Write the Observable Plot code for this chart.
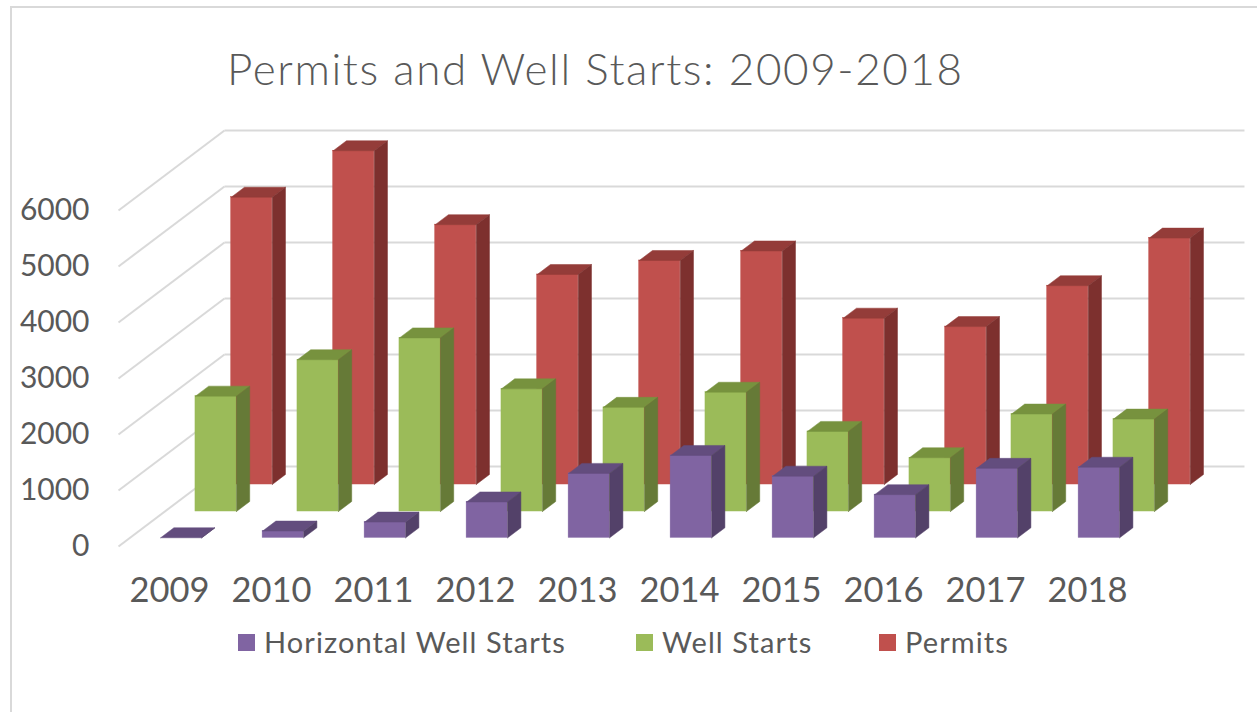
<!DOCTYPE html>
<html>
<head>
<meta charset="utf-8">
<script src="https://cdn.jsdelivr.net/npm/d3@7"></script>
<script src="https://cdn.jsdelivr.net/npm/@observablehq/plot@0.6"></script>
<style>
  html, body { margin: 0; padding: 0; background: #fff; }
  body { width: 1257px; height: 712px; position: relative; overflow: hidden; font-family: Lato, "Open Sans", sans-serif; color: #595959; }
  #frame { position: absolute; left: 10px; top: 6px; width: 1400px; height: 900px; border-left: 2px solid #d9d9d9; border-top: 2px solid #d9d9d9; }
  #title { position: absolute; left: 227px; top: 46px; font-size: 44px; line-height: 44px; font-weight: 300; letter-spacing: 1.6px; white-space: nowrap; }
  #chart { position: absolute; left: 0; top: 115px; }
  .item { position: absolute; top: 627px; height: 29px; display: flex; align-items: center; font-size: 29px; line-height: 29px; letter-spacing: 1.1px; white-space: nowrap; }
  .sw { width: 17px; height: 17px; margin-right: 9px; margin-top: 2px; }
</style>
</head>
<body>
<div id="frame"></div>
<div id="title">Permits and Well Starts: 2009-2018</div>
<div id="chart"></div>
<div id="legend"></div>
<script>
// ---- data ----
const years = ["2009", "2010", "2011", "2012", "2013", "2014", "2015", "2016", "2017", "2018"];
const horizontalWellStarts = [0, 120, 280, 640, 1150, 1470, 1100, 770, 1240, 1260];
const wellStarts = [2060, 2710, 3100, 2190, 1860, 2130, 1430, 960, 1740, 1650];
const permits = [5130, 5960, 4640, 3750, 4000, 4170, 2970, 2820, 3550, 4400];
const seriesNames = ["Horizontal Well Starts", "Well Starts", "Permits"];
const yTicks = [0, 1000, 2000, 3000, 4000, 5000, 6000];

// ---- oblique 3D projection (depth 0..1 mapped into data units) ----
const KX = 1.039;     // x-units per unit of depth
const KY = 1428.6;    // value-units per unit of depth
const BAR_START = 0.3, BAR_END = 0.702, BAR_DEPTH = 0.125;
const rows = [
  {values: permits, d0: 0.775, front: "#C0504D", top: "#943C39", side: "#7D302E"},
  {values: wellStarts, d0: 0.4375, front: "#9BBB59", top: "#77923E", side: "#667A37"},
  {values: horizontalWellStarts, d0: 0.109, front: "#8064A2", top: "#634D7E", side: "#534169"}
];

function faceMarks(r) {
  const d0 = r.d0, d1 = r.d0 + BAR_DEPTH;
  const front = r.values.map((v, i) => ({x1: i + BAR_START + d0 * KX, x2: i + BAR_END + d0 * KX, y1: d0 * KY, y2: v + d0 * KY}));
  const top = r.values.flatMap((v, i) => [[BAR_START, d0], [BAR_END, d0], [BAR_END, d1], [BAR_START, d1], [BAR_START, d0]]
    .map(([u, d]) => ({id: i, x: i + u + d * KX, y: v + d * KY})));
  const side = r.values.flatMap((v, i) => [[0, d0], [v, d0], [v, d1], [0, d1], [0, d0]]
    .map(([h, d]) => ({id: i, x: i + BAR_END + d * KX, y: h + d * KY})));
  return [
    Plot.rect(front, {x1: "x1", x2: "x2", y1: "y1", y2: "y2", fill: r.front, stroke: r.front, strokeWidth: 0.5}),
    Plot.line(top, {x: "x", y: "y", z: "id", fill: r.top, stroke: r.top, strokeWidth: 0.5}),
    Plot.line(side, {x: "x", y: "y", z: "id", fill: r.side, stroke: r.side, strokeWidth: 0.5})
  ];
}

const n = years.length;
const chart = Plot.plot({
  width: 1257,
  height: 510,
  marginLeft: 118,
  marginRight: 119,
  marginTop: 95,
  marginBottom: 79,
  style: {fontFamily: "Lato, 'Open Sans', sans-serif", color: "#595959", background: "transparent"},
  x: {domain: [0, n], axis: null},
  y: {domain: [0, 6000], axis: null},
  marks: [
    // back wall gridlines
    Plot.link(yTicks, {x1: KX, y1: d => d + KY, x2: n + KX, y2: d => d + KY, stroke: "#d9d9d9", strokeWidth: 2}),
    // side wall gridlines
    Plot.link(yTicks, {x1: 0, y1: d => d, x2: KX, y2: d => d + KY, stroke: "#d9d9d9", strokeWidth: 2}),
    ...rows.flatMap(faceMarks),
    Plot.axisY({ticks: yTicks, tickSize: 0, tickPadding: 29, fontSize: 30, tickFormat: d => String(d)}),
    Plot.axisX({ticks: years.map((y, i) => i + 0.5), tickSize: 0, tickPadding: 31, fontSize: 34.5, tickFormat: d => years[Math.floor(d)]})
  ]
});
document.getElementById("chart").appendChild(chart);

// legend
const legendColors = ["#8064A2", "#9BBB59", "#C0504D"];
const legendLeft = [238, 636, 879];
const legend = document.getElementById("legend");
seriesNames.forEach((name, i) => {
  const item = document.createElement("div");
  item.className = "item";
  item.style.left = legendLeft[i] + "px";
  const sw = document.createElement("div");
  sw.className = "sw";
  sw.style.background = legendColors[i];
  const tx = document.createElement("span");
  tx.textContent = name;
  item.appendChild(sw);
  item.appendChild(tx);
  legend.appendChild(item);
});
</script>
</body>
</html>
